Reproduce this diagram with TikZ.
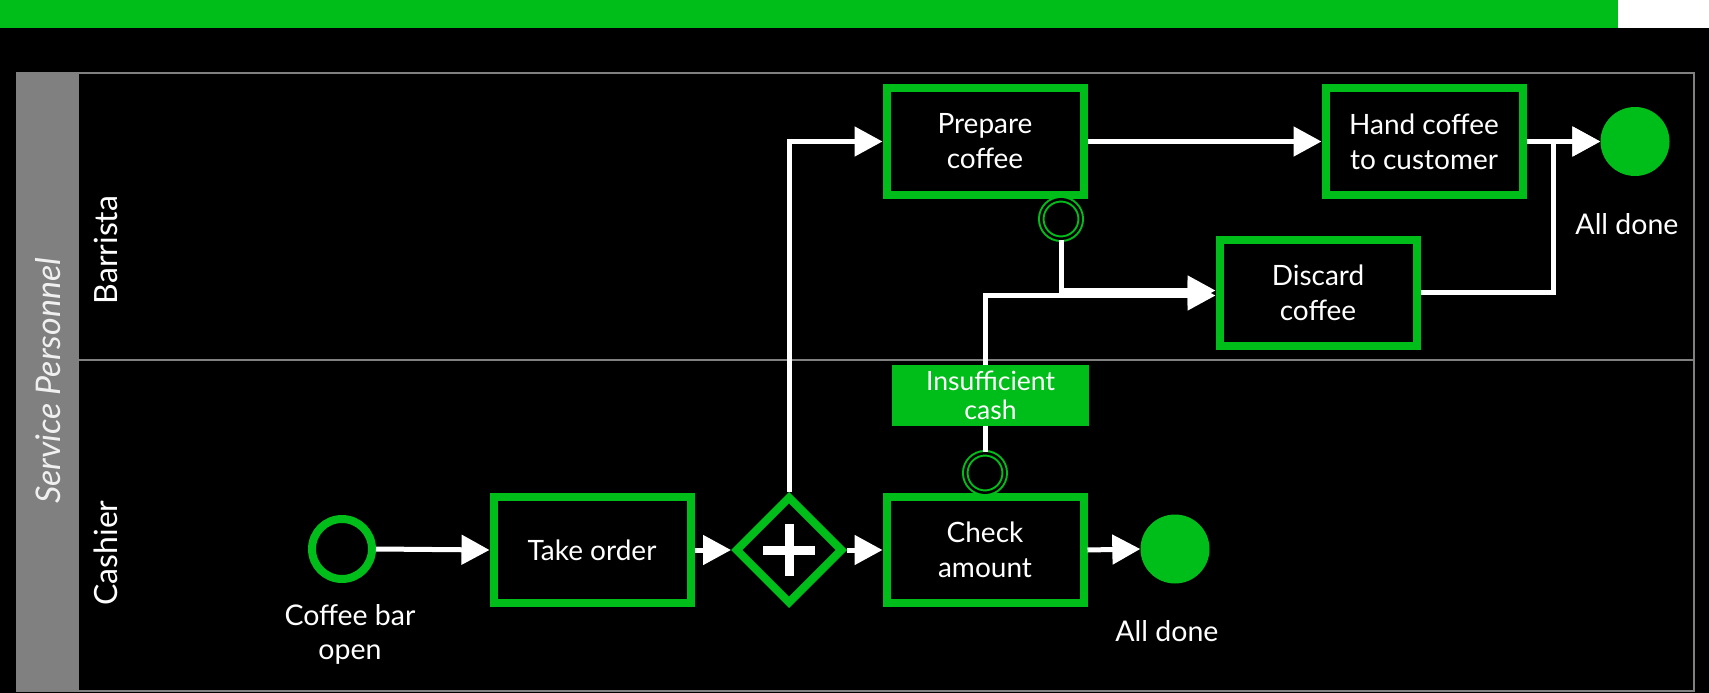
\documentclass[tikz,border=0pt]{standalone}
\usepackage{fontspec}
\setmainfont{Lato}
\usetikzlibrary{arrows.meta,shapes.geometric,calc}
\definecolor{bgreen}{RGB}{0,190,25}
\definecolor{poolgray}{RGB}{128,128,128}
\begin{document}
\begin{tikzpicture}[x=1pt,y=-1pt,
 task/.style={rectangle, draw=bgreen, line width=8pt, fill=black, minimum width=197pt, minimum height=106pt, inner sep=0pt, text=white, align=center, font=\fontsize{28}{35}\selectfont},
 startev/.style={circle, draw=bgreen, line width=8pt, minimum size=60pt, inner sep=0pt},
 endev/.style={circle, fill=bgreen, minimum size=69pt, inner sep=0pt},
 boundev/.style={circle, draw=bgreen, line width=2pt, double=black, double distance=2.5pt, minimum size=39.5pt, inner sep=0pt},
 gate/.style={diamond, draw=bgreen, line width=8pt, minimum width=108pt, minimum height=108pt, inner sep=0pt, aspect=1},
 flow/.style={draw=white, line width=5pt, -{Triangle[length=28pt,width=29pt]}},
 plain/.style={draw=white, line width=5pt},
 lbl/.style={text=white, align=center, font=\fontsize{28.5}{34}\selectfont},
 lanelbl/.style={rotate=90, text=white, font=\fontsize{32}{36}\selectfont},
]
\path[use as bounding box] (0,0) rectangle (1709,693);
\fill[black] (0,0) rectangle (1709,693);
\fill[white] (1618,0) rectangle (1709,28.5);
\fill[bgreen] (0,0) rectangle (1618,28.5);
% pool
\filldraw[draw=poolgray, fill=poolgray, line width=2pt] (17,73) rectangle (78,691);
\draw[poolgray, line width=2pt] (17,73) rectangle (1694,691);
\draw[poolgray, line width=2pt] (78,360) -- (1694,360);
\node[rotate=90, text=white!88!gray, font=\itshape\fontsize{34}{38}\selectfont] (pool) at (48,381) {Service Personnel};
\node[lanelbl] (lb) at (106,250) {Barrista};
\node[lanelbl] (lc) at (106,553) {Cashier};

% nodes
\node[startev] (start) at (342,549) {};
\node[lbl] (cbo) at (350,634) {Coffee bar\\open};
\node[task] (take) at (592,550) {Take order};
\node[gate] (gw) at (789,550) {};
\draw[white, line width=9pt] ([xshift=-26pt]gw.center) -- ([xshift=26pt]gw.center)
  ([yshift=-26pt]gw.center) -- ([yshift=26pt]gw.center);
\node[task] (check) at (985,550) {Check\\amount};
\node[endev] (end2) at (1175,549) {};
\node[lbl] (ad2) at (1167,631) {All done};
\node[task] (prep) at (985,141.5) {Prepare\\coffee};
\node[task] (hand) at (1424,141.5) {Hand coffee\\to customer};
\node[endev] (end1) at (1635,141.5) {};
\node[lbl] (ad1) at (1627,224) {All done};
\node[task] (disc) at (1318,292.5) {Discard\\coffee};
\node[boundev] (bt) at (1061,219) {};
\node[boundev] (bb) at (985,473) {};
\node[fill=bgreen, text=white, minimum width=197pt, minimum height=61pt, inner sep=0pt, align=center, font=\fontsize{26.5}{29}\selectfont] (ic) at (990.5,395.5) {Insufficient\\cash};
\coordinate (m1) at (1553,141.5);

% flows
\draw[flow] (start.east) -- (take.west);
\draw[flow] (take.east) -- (gw.west);
\draw[flow] (gw.east) -- (check.west);
\draw[flow] (gw.north) |- (prep.west);
\draw[flow] (check.east) -- (end2.west);
\draw[flow] (prep.east) -- (hand.west);
\draw[flow] (hand.east) -- (end1.west);
\draw[flow] (disc.east) -| (m1) -- (end1.west);
\draw[flow] (bt.south) |- ([yshift=2pt]disc.west);
\draw[plain] (bb.north) -- (bb.north |- ic.south);
\draw[flow] (bb.north |- ic.north) |- ([yshift=-3pt]disc.west);
\end{tikzpicture}
\end{document}
